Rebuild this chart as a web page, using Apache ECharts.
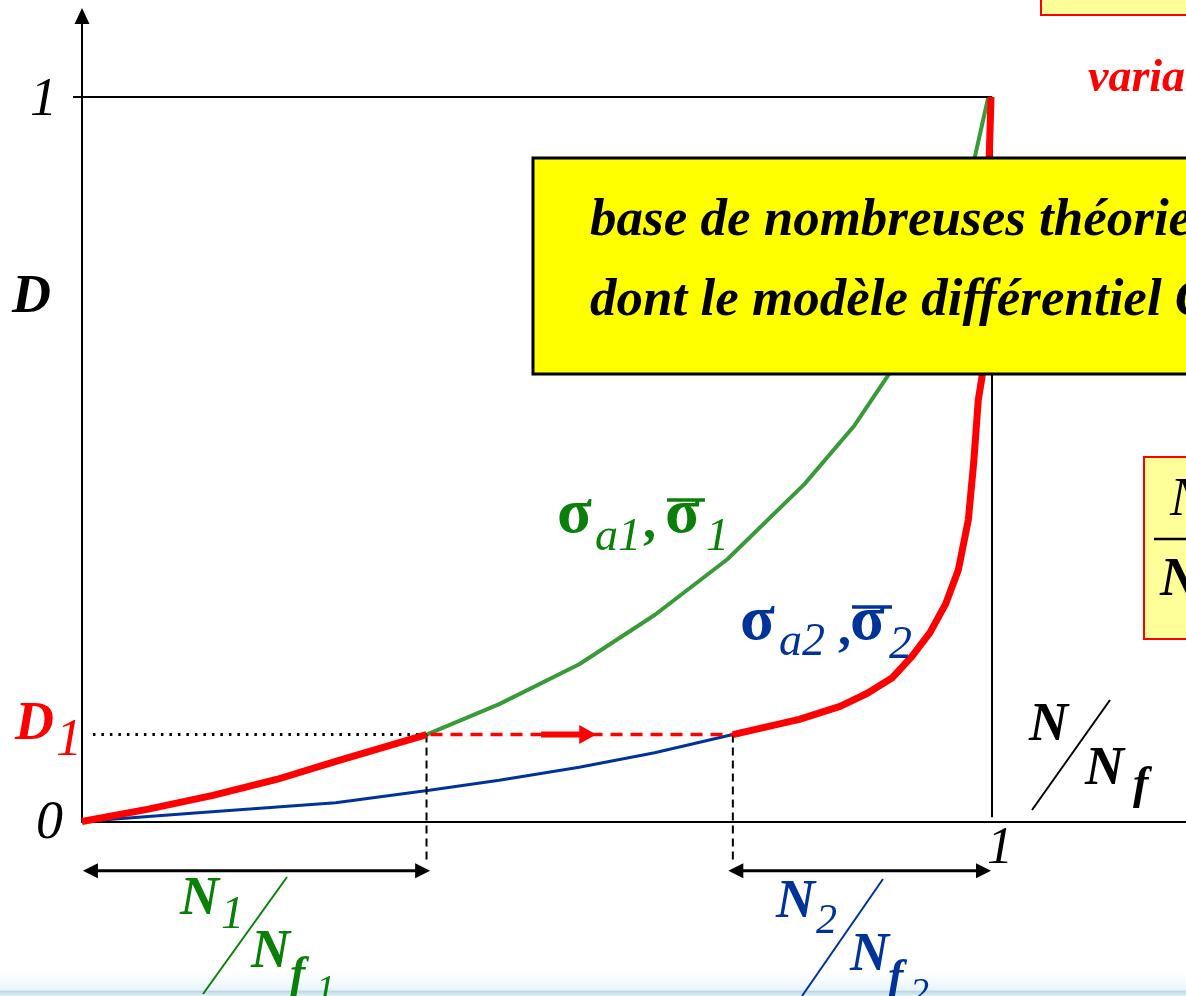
<!DOCTYPE html>
<html>
<head>
<meta charset="utf-8">
<script src="https://cdn.jsdelivr.net/npm/echarts@6/dist/echarts.min.js"></script>
<style>
  html, body { margin: 0; padding: 0; background: #fff; }
  #chart { width: 1186px; height: 996px; }
</style>
</head>
<body>
<div id="chart"></div>
<script>
// Damage D versus life fraction N/Nf under two loading levels (sequence effect)

// Loading level 1 (sigma_a1): life fraction and damage
const lifeRatio1 = [0, 0.073, 0.144, 0.214, 0.282, 0.379, 0.459, 0.547, 0.630, 0.710, 0.795, 0.850, 0.889, 0.922, 0.949, 0.968, 0.982, 0.997];
const damage1    = [0, 0.017, 0.036, 0.058, 0.084, 0.120, 0.162, 0.217, 0.285, 0.362, 0.466, 0.547, 0.620, 0.689, 0.764, 0.837, 0.916, 1.000];

// Loading level 2 (sigma_a2): life fraction and damage
const lifeRatio2 = [0, 0.128, 0.279, 0.382, 0.459, 0.547, 0.630, 0.716, 0.789, 0.834, 0.864, 0.891, 0.913, 0.933, 0.950, 0.964, 0.975, 0.981, 0.986, 0.990, 0.995, 0.998, 1.000];
const damage2    = [0, 0.012, 0.026, 0.043, 0.057, 0.075, 0.095, 0.120, 0.141, 0.159, 0.177, 0.198, 0.228, 0.261, 0.300, 0.347, 0.416, 0.496, 0.582, 0.613, 0.775, 0.916, 1.000];

// Damage reached after the first block, and the equivalent life fractions
const D1 = 0.12;
const N1 = 0.379;
const N2 = 0.716;

const zip = (xs, ys) => xs.map((x, i) => [x, ys[i]]);
const curve1 = zip(lifeRatio1, damage1);
const curve2 = zip(lifeRatio2, damage2);
const pathFirst = curve1.filter(p => p[0] <= N1);
const pathSecond = curve2.filter(p => p[0] >= N2);

const SERIF = '"Liberation Serif", "DejaVu Serif", serif';
const GREEN_LINE = '#3a9a3a';
const GREEN_TEXT = '#0a800a';
const BLUE = '#003399';
const RED = '#ff0000';

// text placed by its baseline
function T(text, x, baseline, size, color, style) {
  return {
    type: 'text', z: 100,
    style: {
      text: text, x: x, y: baseline - 0.305 * size,
      font: (style || 'italic bold') + ' ' + size + 'px ' + SERIF,
      fill: color || '#000',
      align: 'left', verticalAlign: 'middle',
      textAlign: 'left', textVerticalAlign: 'middle'
    }
  };
}
function L(x1, y1, x2, y2, color, w) {
  return { type: 'line', z: 100, shape: { x1, y1, x2, y2 }, style: { stroke: color, lineWidth: w || 2 } };
}

function renderGuides(params, api) {
  const P = (x, y) => api.coord([x, y]);
  const kids = [];
  const black = { stroke: '#000', lineWidth: 2 };

  // D = 1 level and N/Nf = 1 limit
  const a = P(-0.0099, 1), b = P(1, 1), c = P(1, 0.006);
  kids.push({ type: 'line', shape: { x1: a[0], y1: a[1], x2: b[0] + 1, y2: b[1] }, style: black });
  kids.push({ type: 'line', shape: { x1: b[0] + 1, y1: b[1], x2: c[0] + 1, y2: c[1] }, style: black });

  // dotted D1 level up to the first curve
  const d0 = P(0.012, D1), d1 = P(N1, D1);
  kids.push({ type: 'line', shape: { x1: d0[0], y1: d0[1], x2: d1[0], y2: d1[1] },
    style: { stroke: '#000', lineWidth: 3, lineDash: [2.5, 6], lineCap: 'butt' } });

  // dashed red transfer at constant damage
  const e1 = P(N2, D1);
  kids.push({ type: 'line', z2: 5, shape: { x1: d1[0] + 4, y1: d1[1], x2: e1[0], y2: e1[1] },
    style: { stroke: RED, lineWidth: 3.5, lineDash: [12, 8] } });

  // red arrow on the transfer line
  const ta = d1[0] + (e1[0] - d1[0]) * 0.374;
  const tb = d1[0] + (e1[0] - d1[0]) * 0.554;
  const ay = d1[1];
  kids.push({ type: 'line', z2: 6, shape: { x1: ta, y1: ay, x2: tb - 12, y2: ay }, style: { stroke: RED, lineWidth: 6 } });
  kids.push({ type: 'polygon', z2: 6, shape: { points: [[tb, ay], [tb - 17, ay - 9.5], [tb - 17, ay + 9.5]] }, style: { fill: RED } });

  // dashed verticals down from the transfer points
  const gBottom = -0.057;
  [[N1, D1], [N2, D1]].forEach(pt => {
    const p0 = P(pt[0], pt[1]), p1 = P(pt[0], gBottom);
    kids.push({ type: 'line', shape: { x1: p0[0], y1: p0[1], x2: p1[0], y2: p1[1] },
      style: { stroke: '#000', lineWidth: 2, lineDash: [8, 5] } });
  });

  // double arrows spanning the life fractions
  const aLevel = -0.068;
  function dbl(xa, xb) {
    const p = P(xa, aLevel), q = P(xb, aLevel);
    const y = p[1];
    kids.push({ type: 'line', shape: { x1: p[0] + 8, y1: y, x2: q[0] - 8, y2: y }, style: { stroke: '#000', lineWidth: 3 } });
    kids.push({ type: 'polygon', shape: { points: [[p[0], y], [p[0] + 15, y - 7.5], [p[0] + 15, y + 7.5]] }, style: { fill: '#000' } });
    kids.push({ type: 'polygon', shape: { points: [[q[0], y], [q[0] - 15, y - 7.5], [q[0] - 15, y + 7.5]] }, style: { fill: '#000' } });
  }
  dbl(0.001, N1 + 0.004);
  dbl(N2 - 0.005, 1.0);

  return { type: 'group', children: kids };
}

const chart = echarts.init(document.getElementById('chart'), null, { renderer: 'canvas' });

const graphics = [
  // yellow comment box
  { type: 'rect', z: 90, shape: { x: 533, y: 158, width: 700, height: 216 },
    style: { fill: '#ffff00', stroke: '#000', lineWidth: 3 } },
  T('base de nombreuses théories', 590, 237, 53, '#000'),
  T('dont le modèle différentiel Chaboche', 590, 317, 53, '#000'),

  // small boxes on the right edge
  { type: 'rect', z: 90, shape: { x: 1041, y: -10, width: 200, height: 25 },
    style: { fill: '#ffff99', stroke: RED, lineWidth: 2 } },
  T('variable', 1088, 93, 46, RED),
  { type: 'rect', z: 90, shape: { x: 1144, y: 457, width: 100, height: 182 },
    style: { fill: '#ffff99', stroke: RED, lineWidth: 2 } },
  T('N', 1170, 517, 54, '#000', 'italic'),
  L(1154, 539, 1190, 539, '#000', 2.5),
  T('N', 1160, 598, 54, '#000'),

  // axis labels
  T('1', 30, 117, 54, '#000', 'italic'),
  T('D', 12, 315, 54, '#000'),
  T('D', 15, 742, 54, RED),
  T('1', 56, 757, 52, RED, 'italic'),
  T('0', 36, 840, 54, '#000', 'italic'),
  T('1', 987, 865, 52, '#000', 'italic'),

  // N / Nf
  T('N', 1029, 743, 54, '#000'),
  L(1032, 810, 1110, 700, '#000', 2),
  T('N', 1085, 787, 54, '#000'),
  T('f', 1133, 800, 46, '#000'),

  // sigma_a1, sigma_bar_1
  T('σ', 557, 535, 64, GREEN_TEXT, 'bold'),
  T('a1', 595, 552, 46, GREEN_TEXT, 'italic'),
  T(',', 643, 540, 52, GREEN_TEXT, 'bold'),
  T('σ', 665, 535, 64, GREEN_TEXT, 'bold'),
  L(667, 500, 705, 500, GREEN_TEXT, 3.5),
  T('1', 706, 552, 46, GREEN_TEXT, 'italic'),

  // sigma_a2, sigma_bar_2
  T('σ', 740, 642, 64, BLUE, 'bold'),
  T('a2', 779, 657, 46, BLUE, 'italic'),
  T(',', 838, 647, 52, BLUE, 'bold'),
  T('σ', 850, 642, 64, BLUE, 'bold'),
  L(852, 607, 892, 607, BLUE, 3.5),
  T('2', 889, 660, 46, BLUE, 'italic'),

  // N1 / Nf1
  T('N', 180, 917, 54, GREEN_TEXT),
  T('1', 221, 930, 46, GREEN_TEXT, 'italic'),
  L(203, 994, 287, 877, GREEN_TEXT, 2),
  T('N', 251, 970, 54, GREEN_TEXT),
  T('f', 290, 990, 46, GREEN_TEXT),
  T('1', 316, 1003, 38, GREEN_TEXT, 'italic'),

  // N2 / Nf2
  T('N', 776, 920, 54, BLUE),
  T('2', 816, 935, 42, BLUE, 'italic'),
  L(802, 996, 883, 879, BLUE, 2),
  T('N', 850, 973, 54, BLUE),
  T('f', 888, 993, 46, BLUE),
  T('2', 910, 1006, 38, BLUE, 'italic'),

  // bottom edge band
  { type: 'rect', z: 95, shape: { x: 0, y: 972, width: 1186, height: 24 },
    style: { fill: new echarts.graphic.LinearGradient(0, 0, 0, 1, [
      { offset: 0, color: 'rgba(230,245,252,0)' },
      { offset: 0.75, color: 'rgba(225,242,250,0.8)' },
      { offset: 0.8, color: '#b9d6e6' },
      { offset: 1, color: '#e4f2f8' }
    ]) } }
];

chart.setOption({
  animation: false,
  backgroundColor: '#ffffff',
  grid: { left: 82, right: 0, top: 16, bottom: 174.5, containLabel: false },
  xAxis: {
    type: 'value', min: 0, max: 1.2145,
    axisLine: { show: true, onZero: false, lineStyle: { color: '#000', width: 2 } },
    axisTick: { show: false }, axisLabel: { show: false }, splitLine: { show: false }
  },
  yAxis: {
    type: 'value', min: 0, max: 1.1118,
    axisLine: { show: true, onZero: false, symbol: ['none', 'triangle'], symbolSize: [15, 16],
      lineStyle: { color: '#000', width: 2 } },
    axisTick: { show: false }, axisLabel: { show: false }, splitLine: { show: false }
  },
  series: [
    { name: 'level1', type: 'line', data: curve1, showSymbol: false, clip: false, z: 3,
      lineStyle: { color: GREEN_LINE, width: 4 } },
    { name: 'level2', type: 'line', data: curve2, showSymbol: false, clip: false, z: 3,
      lineStyle: { color: BLUE, width: 3 } },
    { name: 'guides', type: 'custom', coordinateSystem: 'cartesian2d', clip: false, z: 4,
      data: [[0, 0]], renderItem: renderGuides },
    { name: 'path1', type: 'line', data: pathFirst, showSymbol: false, clip: false, z: 5,
      lineStyle: { color: RED, width: 7 } },
    { name: 'path2', type: 'line', data: pathSecond, showSymbol: false, clip: false, z: 5,
      lineStyle: { color: RED, width: 7 } }
  ],
  graphic: graphics
});
</script>
</body>
</html>
